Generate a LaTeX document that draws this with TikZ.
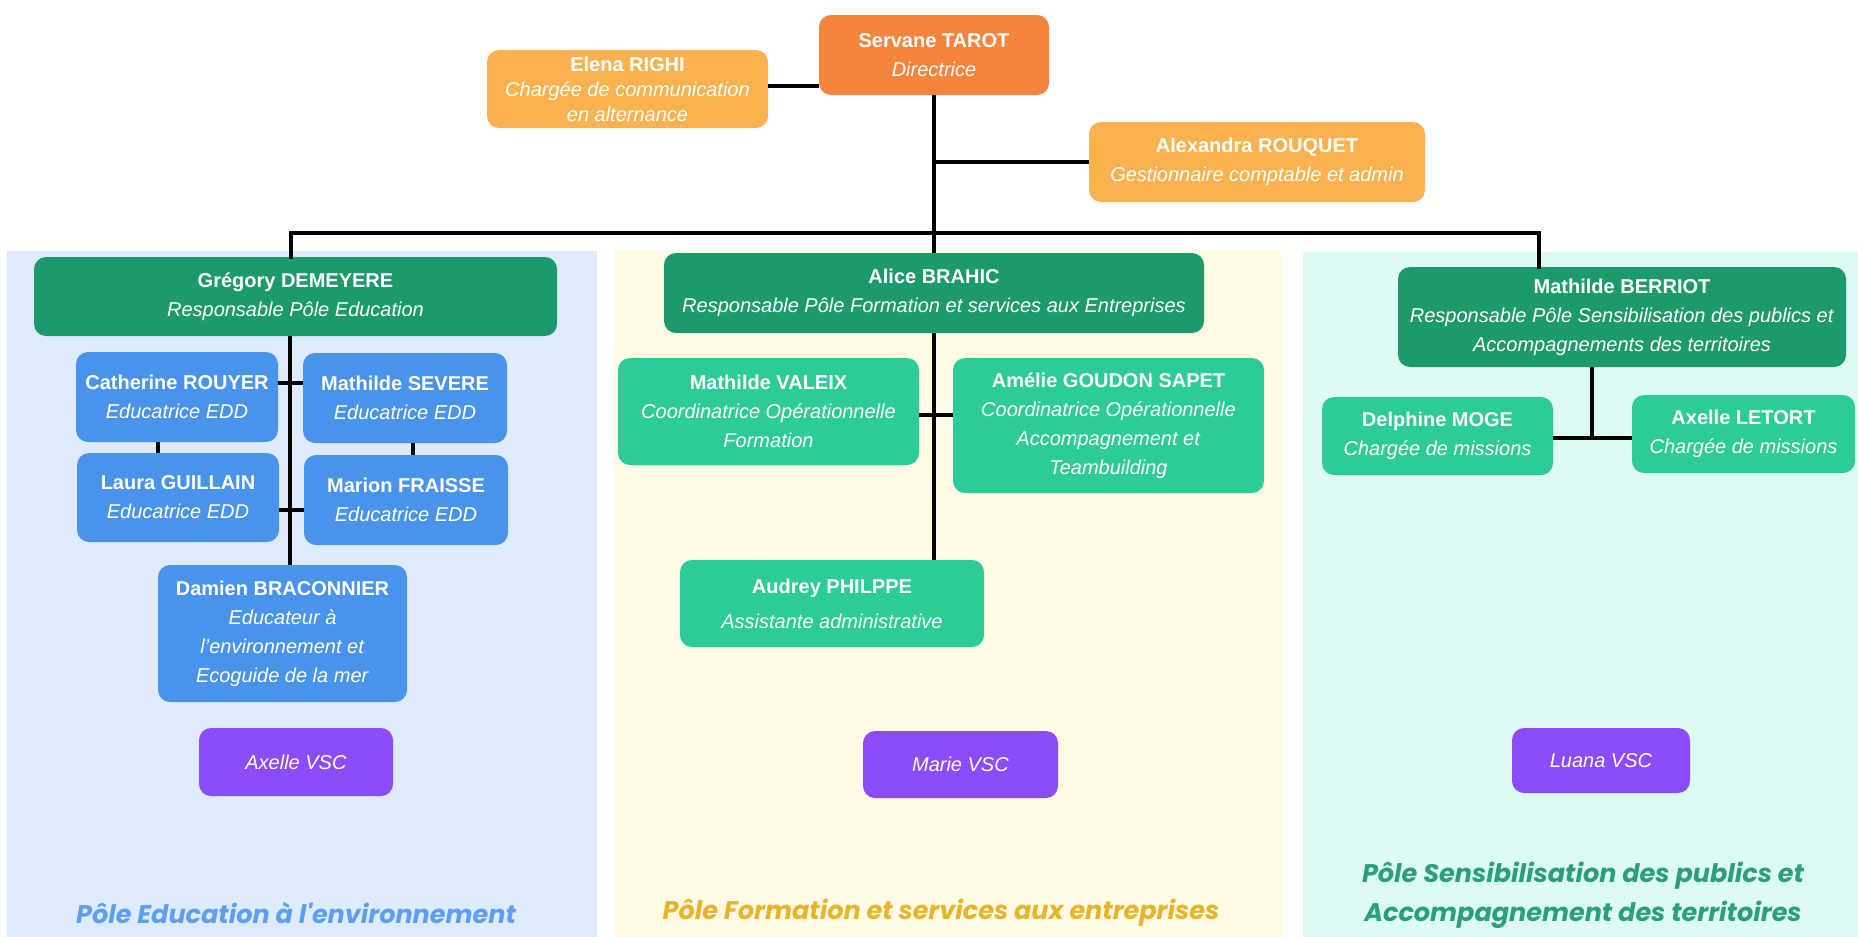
\documentclass[tikz,border=0pt]{standalone}
\usepackage{fontspec}
\setmainfont{Liberation Sans}
\newfontfamily\labelfont{Poppins}
\definecolor{orangeD}{HTML}{F5843F}
\definecolor{orangeL}{HTML}{F9B24F}
\definecolor{greenD}{HTML}{1D9A6C}
\definecolor{greenL}{HTML}{2DCB97}
\definecolor{blueB}{HTML}{4A93EA}
\definecolor{purpleB}{HTML}{8B4CFB}
\definecolor{bgBlue}{HTML}{DDEBFC}
\definecolor{bgCream}{HTML}{FFFBE4}
\definecolor{bgMint}{HTML}{DDFBF5}
\definecolor{lblBlue}{HTML}{5E9EF0}
\definecolor{lblGold}{HTML}{E8B42C}
\definecolor{lblGreen}{HTML}{2B9F79}
\tikzset{
  box/.style={rounded corners=12pt, inner sep=0pt, align=center, text=white,
    font=\fontsize{20}{29}\selectfont},
  conn/.style={line width=4.5pt, black},
  polelabel/.style={font=\labelfont\fontsize{25.5}{39}\selectfont\bfseries\itshape, align=center, inner sep=0pt}
}
\newcommand{\nm}[1]{\textbf{#1}}
\newcommand{\rl}[1]{\textit{#1}}
\begin{document}
\begin{tikzpicture}[x=1pt,y=-1pt]
\useasboundingbox (0,0) rectangle (1858,937);
\fill[white] (0,0) rectangle (1858,937);
\fill[bgBlue] (7,251) rectangle (597,937);
\fill[bgCream] (614,250) rectangle (1283,937);
\fill[bgMint] (1303,252) rectangle (1858,937);

% top
\node[box, fill=orangeD, minimum width=230pt, minimum height=80pt] (Servane) at (934,55) {\nm{Servane TAROT}\\\rl{Directrice}};
\node[box, fill=orangeL, minimum width=281pt, minimum height=78pt, font=\fontsize{20}{25}\selectfont] (Elena) at (627.5,89) {\nm{Elena RIGHI}\\\rl{Chargée de communication}\\\rl{en alternance}};
\node[box, fill=orangeL, minimum width=336pt, minimum height=80pt] (Alexandra) at (1257,162) {\nm{Alexandra ROUQUET}\\\rl{Gestionnaire comptable et admin}};

% pole 1
\node[box, fill=greenD, minimum width=523pt, minimum height=79pt] (Gregory) at (295.5,296.5) {\nm{Grégory DEMEYERE}\\\rl{Responsable Pôle Education}};
\node[box, fill=blueB, minimum width=202pt, minimum height=90pt] (Catherine) at (177,397) {\nm{Catherine ROUYER}\\\rl{Educatrice EDD}};
\node[box, fill=blueB, minimum width=204pt, minimum height=90pt] (Severe) at (405,398) {\nm{Mathilde SEVERE}\\\rl{Educatrice EDD}};
\node[box, fill=blueB, minimum width=202pt, minimum height=89pt] (Laura) at (178,497.5) {\nm{Laura GUILLAIN}\\\rl{Educatrice EDD}};
\node[box, fill=blueB, minimum width=204pt, minimum height=90pt] (Marion) at (406,500) {\nm{Marion FRAISSE}\\\rl{Educatrice EDD}};
\node[box, fill=blueB, minimum width=249pt, minimum height=137pt] (Damien) at (282.5,633.5) {\nm{Damien BRACONNIER}\\\rl{Educateur à}\\\rl{l'environnement et}\\\rl{Ecoguide de la mer}};
\node[box, fill=purpleB, minimum width=194pt, minimum height=68pt] (AxelleV) at (296,762) {\rl{Axelle VSC}};

% pole 2
\node[box, fill=greenD, minimum width=540pt, minimum height=80pt] (Alice) at (934,293) {\nm{Alice BRAHIC}\\\rl{Responsable Pôle Formation et services aux Entreprises}};
\node[box, fill=greenL, minimum width=301pt, minimum height=107pt] (Valeix) at (768.5,411.5) {\nm{Mathilde VALEIX}\\\rl{Coordinatrice Opérationnelle}\\\rl{Formation}};
\node[box, fill=greenL, minimum width=311pt, minimum height=135pt] (Goudon) at (1108.5,425.5) {\nm{Amélie GOUDON SAPET}\\\rl{Coordinatrice Opérationnelle}\\\rl{Accompagnement et}\\\rl{Teambuilding}};
\node[box, fill=greenL, minimum width=304pt, minimum height=87pt, font=\fontsize{20}{35}\selectfont] (Audrey) at (832,603.5) {\nm{Audrey PHILPPE}\\\rl{Assistante administrative}};
\node[box, fill=purpleB, minimum width=195pt, minimum height=67pt] (MarieV) at (960.5,764.5) {\rl{Marie VSC}};

% pole 3
\node[box, fill=greenD, minimum width=448pt, minimum height=100pt] (Berriot) at (1622,317) {\nm{Mathilde BERRIOT}\\\rl{Responsable Pôle Sensibilisation des publics et}\\\rl{Accompagnements des territoires}};
\node[box, fill=greenL, minimum width=231pt, minimum height=78pt] (Delphine) at (1437.5,436) {\nm{Delphine MOGE}\\\rl{Chargée de missions}};
\node[box, fill=greenL, minimum width=223pt, minimum height=78pt] (Letort) at (1743.5,434) {\nm{Axelle LETORT}\\\rl{Chargée de missions}};
\node[box, fill=purpleB, minimum width=178pt, minimum height=65pt] (LuanaV) at (1601,760.5) {\rl{Luana VSC}};

% labels
\node[polelabel, text=lblBlue] (L1) at (296,913) {Pôle Education à l'environnement};
\node[polelabel, text=lblGold] (L2) at (941,913) {Pôle Formation et services aux entreprises};
\node[polelabel, text=lblGreen] (L3) at (1583,895) {Pôle Sensibilisation des publics et\\Accompagnement des territoires};

% connectors
\coordinate (busL) at (291,233);
\coordinate (busR) at (1539,233);
\draw[conn] (Elena.east |- 0,86) -- (Servane.west |- 0,86);
\draw[conn] (Servane.south) -- (Alice.north);
\draw[conn] (Servane.south |- Alexandra.west) -- (Alexandra.west);
\draw[conn, line cap=rect] (Gregory.north -| busL) -- (busL) -- (busR) -- (Berriot.north -| busR);
\draw[conn] (Gregory.south -| 290,0) -- (Damien.north -| 290,0);
\draw[conn] (Catherine.east |- 0,383) -- (Severe.west |- 0,383);
\draw[conn] (Laura.east |- 0,510) -- (Marion.west |- 0,510);
\draw[conn] (Catherine.south -| 158,0) -- (Laura.north -| 158,0);
\draw[conn] (Severe.south -| 413,0) -- (Marion.north -| 413,0);
\draw[conn] (Alice.south) -- (Audrey.north -| Alice.south);
\draw[conn] (Valeix.east |- 0,415) -- (Goudon.west |- 0,415);
\coordinate (bj) at (1592,438);
\draw[conn] (Berriot.south -| bj) -- (bj);
\draw[conn] (Delphine.east |- bj) -- (Letort.west |- bj);
\end{tikzpicture}
\end{document}
